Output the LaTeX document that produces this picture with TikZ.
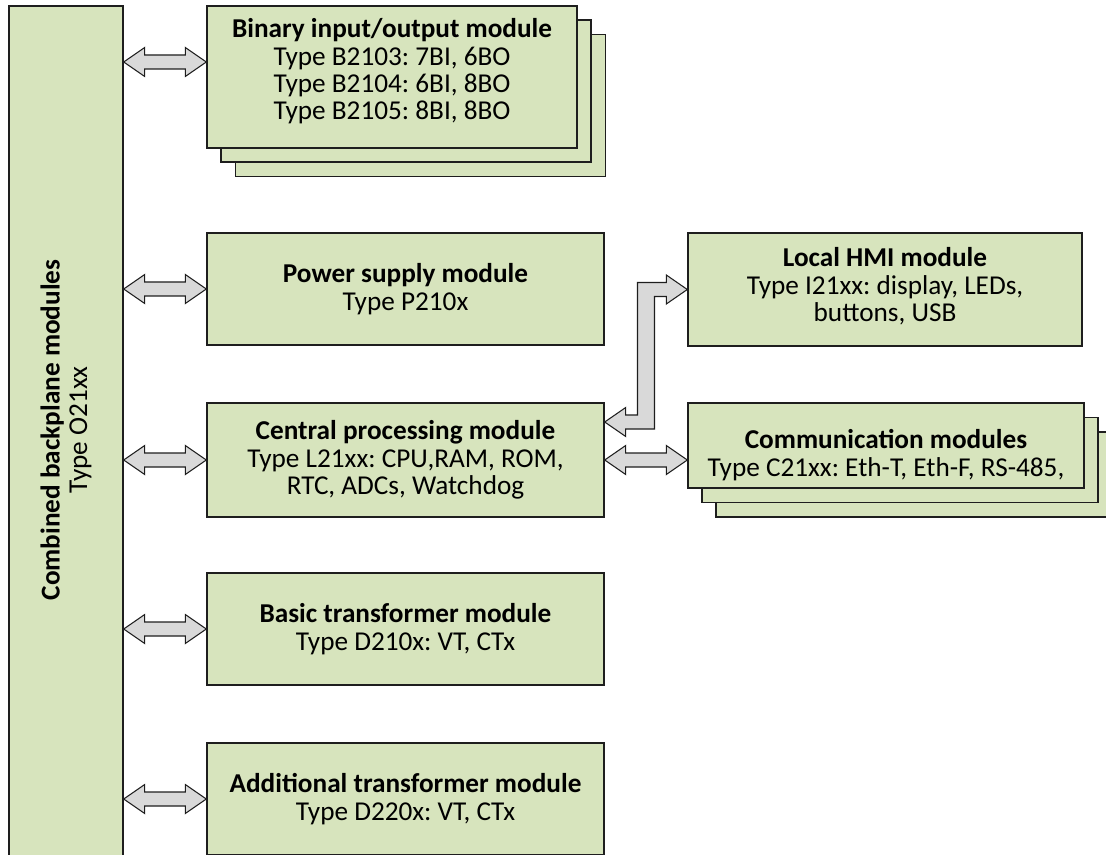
\documentclass[tikz,border=0pt]{standalone}
\usepackage{fontspec}
\setmainfont{Carlito}
\usetikzlibrary{calc}
\definecolor{ModuleFill}{RGB}{215,228,189}
\definecolor{LinkFill}{RGB}{217,217,217}
\definecolor{EdgeColor}{RGB}{30,30,30}
\frenchspacing

% fat two-headed link between two points at the same height
\newcommand{\twoway}[2]{%
  \draw[link] (#1) -- ++(0.42,0.29) -- ++(0,-0.15) -- ($(#2)+(-0.42,0.14)$) -- ++(0,0.15) -- (#2)
    -- ++(-0.42,-0.29) -- ++(0,0.15) -- ($(#1)+(0.42,-0.14)$) -- ++(0,-0.15) -- cycle;}

\begin{document}
\begin{tikzpicture}[
        module/.style={draw=EdgeColor, fill=ModuleFill, line width=0.8pt, align=center, inner sep=2pt, font=\fontsize{15.5}{15.6}\selectfont},
        caption/.style={align=center, font=\fontsize{15.5}{15.6}\selectfont},
        link/.style={draw=EdgeColor, fill=LinkFill, line width=0.6pt, line join=miter}
    ]
        \clip (0,0) rectangle (22.12,17.08);

        % backplane on the left
        \node[module, minimum width=2.28cm, minimum height=17.68cm] (bar) at (1.32,8.12) {};
        \node[caption, rotate=90] (barlabel) at (1.32,8.48) {\textbf{Combined backplane modules}\\Type O21xx};

        % stacked binary I/O cards
        \node[module, minimum width=7.40cm, minimum height=2.84cm] (bin3) at (8.41,14.97) {};
        \node[module, minimum width=7.40cm, minimum height=2.84cm] (bin2) at (8.12,15.26) {};
        \node[module, minimum width=7.40cm, minimum height=2.84cm] (bin) at (7.84,15.54) {};
        \node[caption] (bintext) at ($(bin.center)+(0,0.11)$) {
            \textbf{Binary input/output module}\\
            Type B2103: 7BI, 6BO\\
            Type B2104: 6BI, 8BO\\
            Type B2105: 8BI, 8BO
        };

        \node[module, minimum width=7.94cm, minimum height=2.24cm] (power) at (8.11,11.30) {
            \textbf{Power supply module}\\
            Type P210x
        };
        \node[module, minimum width=7.94cm, minimum height=2.28cm] (cpu) at (8.11,7.88) {
            \textbf{Central processing module}\\
            Type L21xx: CPU,RAM, ROM,\\
            RTC, ADCs, Watchdog
        };
        \node[module, minimum width=7.94cm, minimum height=2.24cm] (basic) at (8.11,4.50) {
            \textbf{Basic transformer module}\\
            Type D210x: VT, CTx
        };
        \node[module, minimum width=7.94cm, minimum height=2.24cm] (extra) at (8.11,1.10) {
            \textbf{Additional transformer module}\\
            Type D220x: VT, CTx
        };

        \node[module, minimum width=7.88cm, minimum height=2.26cm] (hmi) at (17.70,11.29) {};
        \node[caption] (hmitext) at ($(hmi.center)+(0,0.06)$) {
            \textbf{Local HMI module}\\
            Type I21xx: display, LEDs,\\
            buttons, USB
        };

        % stacked communication cards
        \node[module, minimum width=7.92cm, minimum height=1.70cm] (comm3) at (18.28,7.59) {};
        \node[module, minimum width=7.92cm, minimum height=1.70cm] (comm2) at (18.00,7.88) {};
        \node[module, minimum width=7.92cm, minimum height=1.70cm] (comm) at (17.72,8.17) {};
        \node[caption] (commtext) at ($(comm.center)+(0,-0.19)$) {
            \textbf{Communication modules}\\
            Type C21xx: Eth-T, Eth-F, RS-485,
        };

        % links to the backplane
        \coordinate (binport) at ($(bin.west)+(0,0.30)$);
        \twoway{bar.east |- binport}{binport}
        \twoway{bar.east |- power.west}{power.west}
        \twoway{bar.east |- cpu.west}{cpu.west}
        \twoway{bar.east |- basic.west}{basic.west}
        \twoway{bar.east |- extra.west}{extra.west}

        % cpu to communication
        \twoway{cpu.east}{cpu.east -| comm.west}

        % cpu to local HMI, bent link
        \coordinate (up) at ($(cpu.east)+(0,0.76)$);
        \coordinate (bend) at ($(up)!0.5!(up -| hmi.west)$);
        \draw[link] (up) -- ++(0.42,0.29) -- ++(0,-0.15) -- ($(bend)+(-0.17,0.14)$)
            -- ($(bend |- hmi.west)+(-0.17,0.14)$) -- ($(hmi.west)+(-0.42,0.14)$) -- ++(0,0.15)
            -- (hmi.west) -- ++(-0.42,-0.29) -- ++(0,0.15) -- ($(bend |- hmi.west)+(0.17,-0.14)$)
            -- ($(bend)+(0.17,-0.14)$) -- ($(up)+(0.42,-0.14)$) -- ++(0,-0.15) -- cycle;

    \end{tikzpicture}
\end{document}
